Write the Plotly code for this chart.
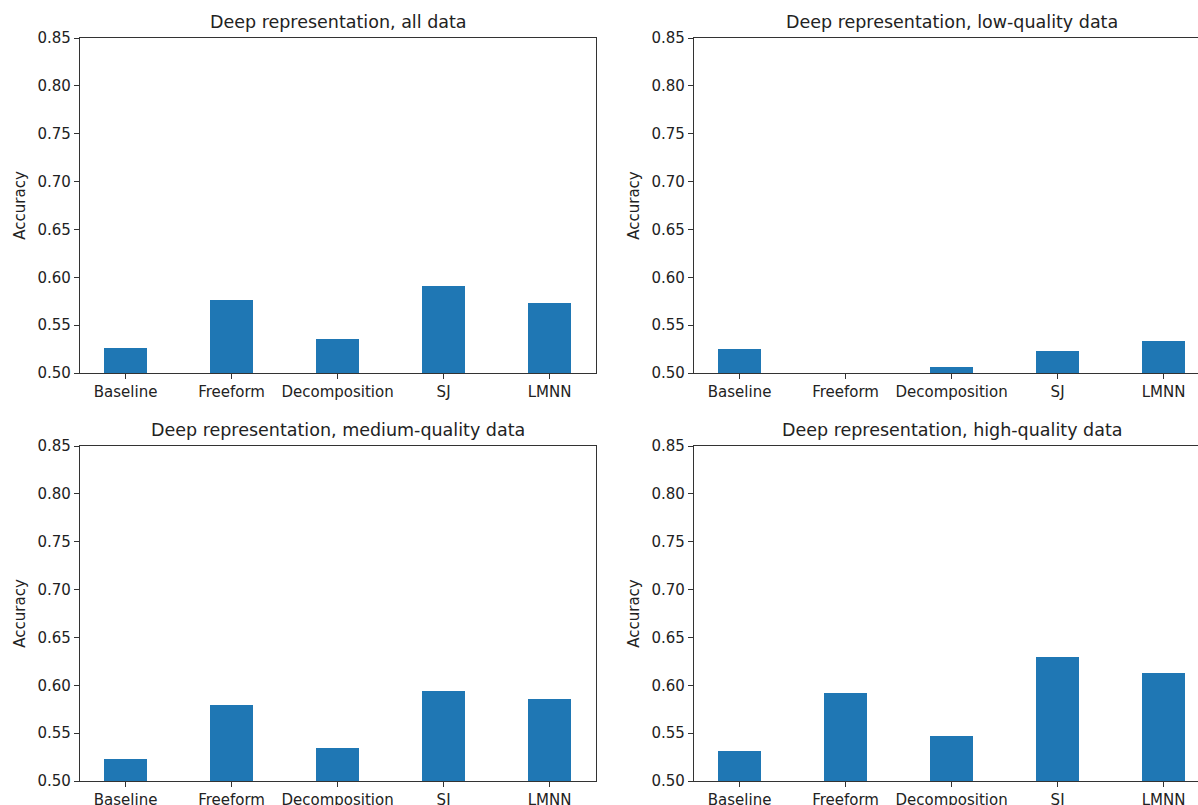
import plotly.graph_objects as go

# Methods compared in every panel
methods = ["Baseline", "Freeform", "Decomposition", "SJ", "LMNN"]

# Accuracy per method for each data subset
acc_all = [0.526, 0.576, 0.536, 0.591, 0.573]
acc_low = [0.525, 0.495, 0.506, 0.523, 0.533]
acc_medium = [0.523, 0.579, 0.534, 0.594, 0.586]
acc_high = [0.531, 0.592, 0.547, 0.630, 0.613]

panel_titles = [
    "Deep representation, all data",
    "Deep representation, low-quality data",
    "Deep representation, medium-quality data",
    "Deep representation, high-quality data",
]
y_ticks = [0.50, 0.55, 0.60, 0.65, 0.70, 0.75, 0.80, 0.85]

W, H = 1198, 805
FONT = "DejaVu Sans"
BAR_COLOR = "#1f77b4"
AX_COLOR = "#333333"
TXT_COLOR = "#222222"

# Axes boxes in pixels: (left, right, top, bottom)
boxes = [
    (80, 596, 38, 373),
    (694, 1198, 38, 373),
    (80, 596, 446, 781),
    (694, 1198, 446, 781),
]
unit_px = 106.0  # pixel distance between neighbouring categories

series = [acc_all, acc_low, acc_medium, acc_high]

fig = go.Figure()
layout = dict(
    width=W, height=H,
    margin=dict(l=0, r=0, t=0, b=0, autoexpand=False),
    paper_bgcolor="white", plot_bgcolor="white",
    showlegend=False,
    font=dict(family=FONT, size=15, color=TXT_COLOR),
    bargap=0,
)
annotations = []
x_pos = list(range(len(methods)))

for i, (vals, title, box) in enumerate(zip(series, panel_titles, boxes)):
    left, right, top, bottom = box
    n = i + 1
    xa = "x" if n == 1 else f"x{n}"
    ya = "y" if n == 1 else f"y{n}"
    fig.add_trace(go.Bar(
        x=x_pos, y=vals, width=0.4,
        marker=dict(color=BAR_COLOR, line=dict(width=0)),
        xaxis=xa, yaxis=ya,
    ))
    x0 = -0.43
    x1 = x0 + (right - left) / unit_px
    dom_x = [left / W, min(right / W, 1.0)]
    dom_y = [1 - bottom / H, 1 - top / H]
    is_right_col = left > 600
    layout[f"xaxis{'' if n == 1 else n}"] = dict(
        domain=dom_x, anchor=ya, range=[x0, x1], automargin=False,
        tickmode="array", tickvals=x_pos, ticktext=methods,
        ticks="outside", ticklen=5, tickcolor=AX_COLOR, tickwidth=1,
        showline=True, linecolor=AX_COLOR, linewidth=1.2,
        mirror=True, showgrid=False, zeroline=False,
        tickfont=dict(size=15, family=FONT, color=TXT_COLOR),
        fixedrange=True,
    )
    layout[f"yaxis{'' if n == 1 else n}"] = dict(
        domain=dom_y, anchor=xa, range=[0.50, 0.85], automargin=False,
        tickmode="array", tickvals=y_ticks,
        ticktext=[f"{t:.2f}" for t in y_ticks],
        ticks="outside", ticklen=5, tickcolor=AX_COLOR, tickwidth=1,
        showline=True, linecolor=AX_COLOR, linewidth=1.2,
        mirror=(not is_right_col), showgrid=False, zeroline=False,
        tickfont=dict(size=15, family=FONT, color=TXT_COLOR),
        title=dict(text="Accuracy", standoff=8,
                   font=dict(size=15, family=FONT, color=TXT_COLOR)),
        fixedrange=True,
    )
    annotations.append(dict(
        text=title, showarrow=False,
        xref="paper", yref="paper",
        x=(dom_x[0] + (left + 516) / W) / 2 if is_right_col else sum(dom_x) / 2,
        y=dom_y[1], xanchor="center", yanchor="bottom", yshift=4,
        font=dict(size=17.5, family=FONT, color=TXT_COLOR),
    ))

layout["annotations"] = annotations
fig.update_layout(**layout)
fig.write_html("out.html")
